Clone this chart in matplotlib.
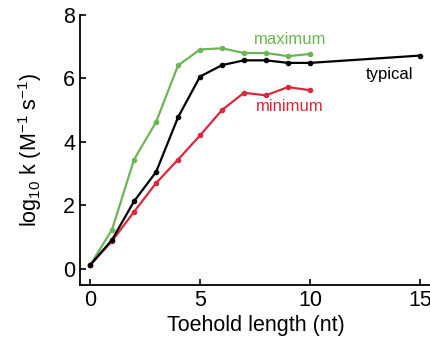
import numpy as np
import matplotlib.pyplot as plt

plt.rcParams['font.family'] = ['Liberation Sans', 'DejaVu Sans']
plt.rcParams['mathtext.default'] = 'regular'

# toehold length (nt)
x_typ = [0, 1, 2, 3, 4, 5, 6, 7, 8, 9, 10, 15]
y_typ = [0.12, 0.92, 2.13, 3.05, 4.77, 6.05, 6.41, 6.56, 6.56, 6.48, 6.48, 6.71]

x_max = [0, 1, 2, 3, 4, 5, 6, 7, 8, 9, 10]
y_max = [0.12, 1.24, 3.44, 4.62, 6.40, 6.90, 6.94, 6.79, 6.79, 6.69, 6.76]

x_min = [0, 1, 2, 3, 4, 5, 6, 7, 8, 9, 10]
y_min = [0.12, 0.88, 1.80, 2.70, 3.44, 4.20, 5.00, 5.54, 5.46, 5.72, 5.62]

green = '#6db554'
red = '#d8283c'

fig = plt.figure(figsize=(4.31, 3.38), dpi=100)
ax = fig.add_axes([0.186, 0.157, 0.814, 0.80])

ax.plot(x_max, y_max, '-o', color=green, lw=1.6, ms=3)
ax.plot(x_min, y_min, '-o', color=red, lw=1.6, ms=3)
ax.plot(x_typ, y_typ, '-o', color='black', lw=1.6, ms=3)

ax.text(9.1, 7.2, 'maximum', color=green, fontsize=12, ha='center', va='center')
ax.text(13.6, 6.12, 'typical', color='black', fontsize=12, ha='center', va='center')
ax.text(9.1, 5.1, 'minimum', color=red, fontsize=12, ha='center', va='center')

ax.set_xlim(-0.45, 15.5)
ax.set_ylim(-0.5, 8.0)
ax.set_xticks([0, 5, 10, 15])
ax.set_yticks([0, 2, 4, 6, 8])
ax.tick_params(direction='in', labelsize=15.5, length=4, width=1.2)
ax.spines['top'].set_visible(False)
ax.spines['right'].set_visible(False)
ax.spines['left'].set_linewidth(1.3)
ax.spines['bottom'].set_linewidth(1.3)

ax.set_xlabel('Toehold length (nt)', fontsize=15.5, labelpad=3)
ax.set_ylabel(r'log$_{10}$ k (M$^{-1}$ s$^{-1}$)', fontsize=15.5, labelpad=14)

fig.savefig('out.png', dpi=100)
